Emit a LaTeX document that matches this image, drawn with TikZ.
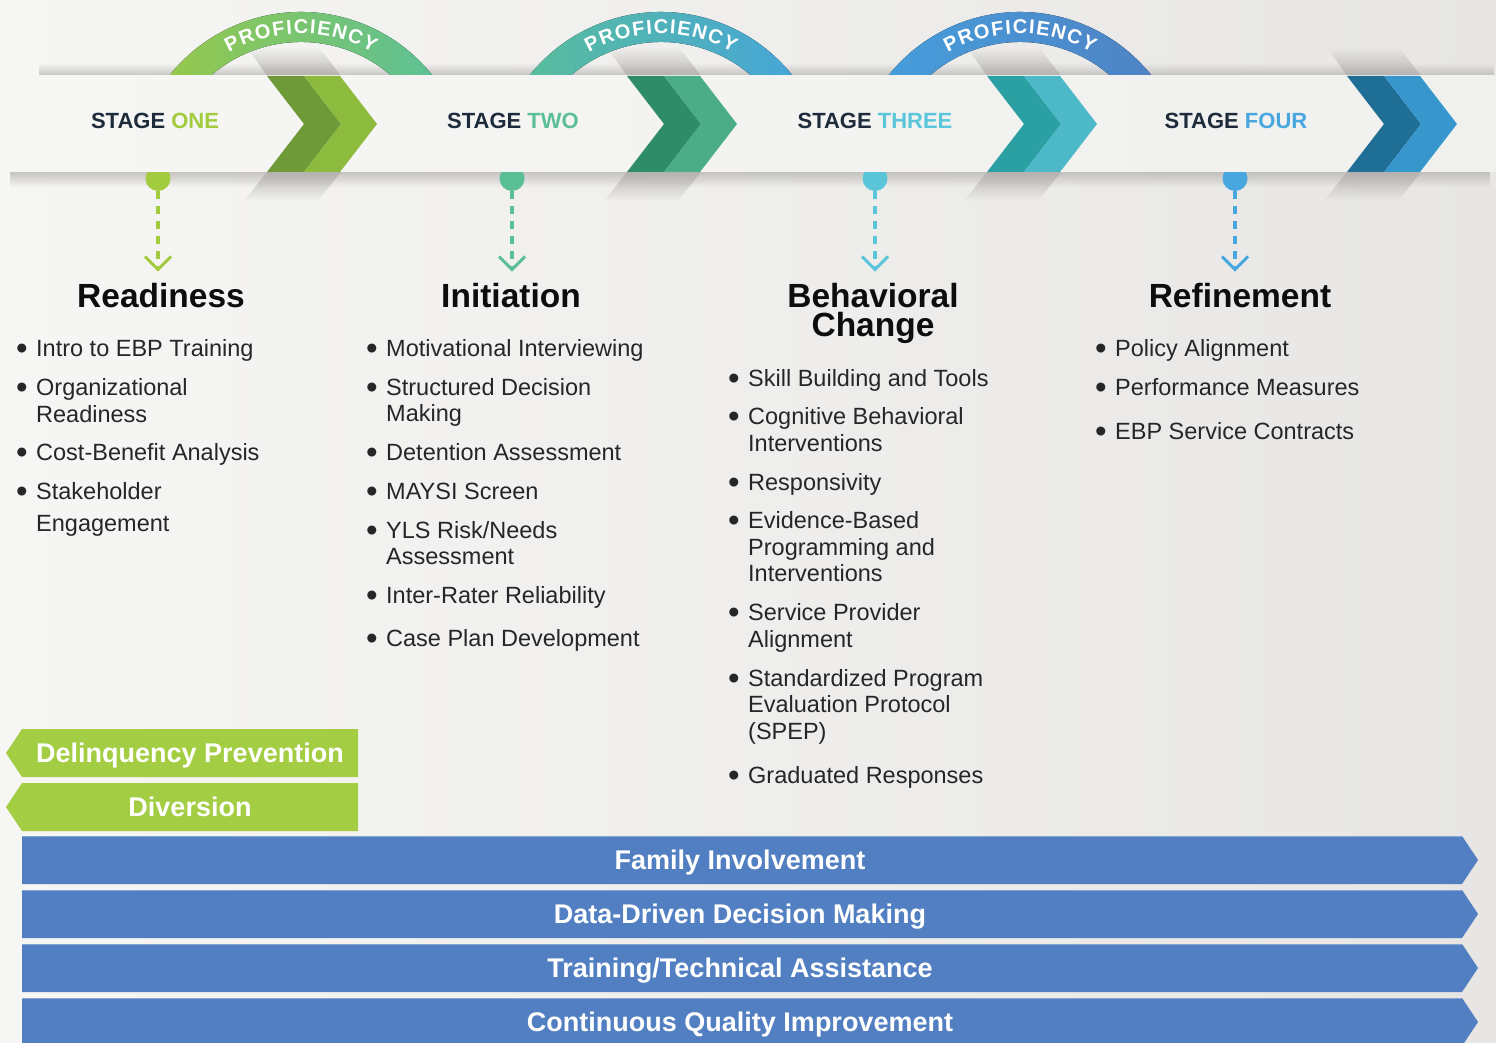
\documentclass[tikz,border=0pt]{standalone}
\usepackage{fontspec}
\setmainfont{Liberation Sans}
\usetikzlibrary{calc,fadings}

% palette
\definecolor{bgL}{HTML}{F6F6F5}
\definecolor{bgR}{HTML}{E7E6E5}
\definecolor{bandL}{HTML}{F6F6F5}
\definecolor{bandR}{HTML}{F0F0EF}
\definecolor{shadowc}{HTML}{B3AFAC}
\definecolor{stA}{HTML}{A2CB3F}
\definecolor{stB}{HTML}{5BBF95}
\definecolor{stC}{HTML}{5BC6D9}
\definecolor{stD}{HTML}{47A7DE}
\definecolor{chAd}{HTML}{6E9A38}
\definecolor{chAl}{HTML}{8DBB3E}
\definecolor{chBd}{HTML}{2E8C68}
\definecolor{chBl}{HTML}{4BAD88}
\definecolor{chCd}{HTML}{2AA0A3}
\definecolor{chCl}{HTML}{4DB9C8}
\definecolor{chDd}{HTML}{1F6E95}
\definecolor{chDl}{HTML}{3796CC}
\definecolor{arcA}{HTML}{9BC945}
\definecolor{arcB}{HTML}{57C09D}
\definecolor{arcC}{HTML}{5ABF97}
\definecolor{arcD}{HTML}{45A3DD}
\definecolor{arcE}{HTML}{45A0DD}
\definecolor{arcF}{HTML}{5080C3}
\definecolor{bgreen}{HTML}{A3CD42}
\definecolor{bblue}{HTML}{517FC1}
\definecolor{bbluelt}{HTML}{86A6D6}
\definecolor{stgtxt}{HTML}{1E2B3B}
\definecolor{bodytxt}{HTML}{262626}
\definecolor{hdtxt}{HTML}{0D0D0D}

% bullet item (first line) and continuation line
\newcommand\bitem[4]{\node[itm] (#1) at (#2,#3)
  {\makebox[20pt][l]{\raisebox{-3pt}{\fontsize{33}{33}\selectfont\textbullet}}#4};}
\newcommand\bline[4]{\node[itm] (#1) at (#2,#3) {#4};}

\tikzset{
  itm/.style={anchor=west, inner sep=0pt, text=bodytxt,
    font=\fontsize{23.5}{27}\selectfont, text height=16.8pt, text depth=0pt},
  hdg/.style={inner sep=0pt, text=hdtxt,
    font=\bfseries\fontsize{33.5}{36}\selectfont, text height=24pt, text depth=0pt},
  stg/.style={inner sep=0pt, text=stgtxt,
    font=\bfseries\fontsize{22}{24}\selectfont, text height=15.8pt, text depth=0pt},
  bnr/.style={inner sep=0pt, text=white,
    font=\bfseries\fontsize{27}{29}\selectfont, text height=19.3pt, text depth=0pt},
  arcltr/.style={inner sep=0pt, anchor=base, text=white,
    font=\bfseries\fontsize{20}{20}\selectfont},
  dotn/.style={circle, inner sep=0pt, minimum size=25pt},
  dashln/.style={line width=3.5pt, dash pattern=on 7.5pt off 7.5pt},
  vhead/.style={line width=3pt, line join=miter},
}

\begin{document}
\begin{tikzpicture}[x=1pt,y=-1pt]
\useasboundingbox (0,0) rectangle (1496,1043);
\shade[left color=bgL, right color=bgR] (0,0) rectangle (1496,1043);

% soft shadow along the stage band
\fill[shadowc, fill opacity=0.7, path fading=north] (40,63) rectangle (1496,76);
\fill[shadowc, fill opacity=0.7, path fading=south] (12,172) rectangle (1496,187);

% proficiency arcs with their lettering
\foreach \cx/\ca/\cb in {301/arcA/arcB, 661/arcC/arcD, 1020/arcE/arcF}{
  \fill[left color=\ca, right color=\cb]
    ($(\cx,180)+(195:168)$) arc[start angle=195, end angle=345, radius=168]
    -- ($(\cx,180)+(345:138)$) arc[start angle=345, end angle=195, radius=138] -- cycle;
  \foreach \ch/\ph [count=\j] in {P/-26.86, R/-20.88, O/-14.46, F/-8.48, I/-4.46, C/0,
      I/4.46, E/8.70, N/14.68, C/20.88, Y/26.86}{
    \node[arcltr, rotate={0-(\ph)}] (L\cx-\j) at ($(\cx,180)+({270+(\ph)}:146.5)$) {\ch};
  }
}

% stage markers (half hidden below the band)
\foreach \k/\px/\cc in {1/158/stA, 2/512/stB, 3/875/stC, 4/1235/stD}{
  \node[dotn, fill=\cc] (dot\k) at (\px,178.5) {};
}

% shadows of the chevron arms leaving the band
\foreach \dx in {0,360,720,1080}{
  \begin{scope}[xshift=\dx]
    \fill[shadowc, fill opacity=0.85, path fading=north] (247,47) -- (319,47) -- (341,76) -- (267,76) -- cycle;
    \fill[shadowc, fill opacity=0.85, path fading=south] (267,172) -- (341,172) -- (318,201) -- (244,201) -- cycle;
  \end{scope}
}

% the stage band
\fill[left color=bandL, right color=bandR] (12,76) rectangle (1496,172);

% chevrons
\foreach \dx/\dk/\lt in {0/chAd/chAl, 360/chBd/chBl, 720/chCd/chCl, 1080/chDd/chDl}{
  \begin{scope}[xshift=\dx]
    \fill[\dk] (267,76) -- (304,76) -- (341,124) -- (304,172) -- (267,172) -- (304,124) -- cycle;
    \fill[\lt] (304,76) -- (340,76) -- (377,124) -- (340,172) -- (304,172) -- (341,124) -- cycle;
  \end{scope}
}

% stage titles
\node[stg] (s1) at (155,121) {STAGE \textcolor{stA}{ONE}};
\node[stg] (s2) at (513,121) {STAGE \textcolor{stB}{TWO}};
\node[stg] (s3) at (875,121) {STAGE \textcolor{stC}{THREE}};
\node[stg] (s4) at (1236,121) {STAGE \textcolor{stD}{FOUR}};

% dashed drops with open arrow heads
\foreach \k/\px/\cc in {1/158/stA, 2/512/stB, 3/875/stC, 4/1235/stD}{
  \coordinate (tip\k) at (\px,269.5);
  \draw[dashln, \cc] (dot\k.south) -- (tip\k);
  \draw[vhead, \cc] (tip\k) ++(-13,-13) -- (tip\k) -- ++(13,-13);
}

% headings
\node[hdg] (h1) at (161,295) {Readiness};
\node[hdg] (h2) at (511,295) {Initiation};
\node[hdg] (h3a) at (873,295) {Behavioral};
\node[hdg] (h3b) at (873,324) {Change};
\node[hdg] (h4) at (1240,295) {Refinement};

% Readiness
\bitem{r1}{16}{348}{Intro to EBP Training}
\bitem{r2}{16}{387}{Organizational}
\bline{r2b}{36}{414}{Readiness}
\bitem{r3}{16}{452}{Cost-Benefit Analysis}
\bitem{r4}{16}{491}{Stakeholder}
\bline{r4b}{36}{523}{Engagement}

% Initiation
\bitem{i1}{366}{348}{Motivational Interviewing}
\bitem{i2}{366}{387}{Structured Decision}
\bline{i2b}{386}{413}{Making}
\bitem{i3}{366}{452}{Detention Assessment}
\bitem{i4}{366}{491}{MAYSI Screen}
\bitem{i5}{366}{530}{YLS Risk/Needs}
\bline{i5b}{386}{556}{Assessment}
\bitem{i6}{366}{595}{Inter-Rater Reliability}
\bitem{i7}{366}{638}{Case Plan Development}

% Behavioral Change
\bitem{b1}{728}{378}{Skill Building and Tools}
\bitem{b2}{728}{416}{Cognitive Behavioral}
\bline{b2b}{748}{443}{Interventions}
\bitem{b3}{728}{482}{Responsivity}
\bitem{b4}{728}{520}{Evidence-Based}
\bline{b4b}{748}{547}{Programming and}
\bline{b4c}{748}{573}{Interventions}
\bitem{b5}{728}{612}{Service Provider}
\bline{b5b}{748}{639}{Alignment}
\bitem{b6}{728}{678}{Standardized Program}
\bline{b6b}{748}{704}{Evaluation Protocol}
\bline{b6c}{748}{731}{(SPEP)}
\bitem{b7}{728}{775}{Graduated Responses}

% Refinement
\bitem{f1}{1095}{348}{Policy Alignment}
\bitem{f2}{1095}{387}{Performance Measures}
\bitem{f3}{1095}{431}{EBP Service Contracts}

% green banners
\fill[bgreen] (22,729) -- (358,729) -- (358,777) -- (22,777) -- (6,753) -- cycle;
\node[bnr] (dp) at (190,753) {Delinquency Prevention};
\fill[bgreen] (22,783) -- (358,783) -- (358,831) -- (22,831) -- (6,807) -- cycle;
\node[bnr] (dv) at (190,807) {Diversion};

% blue bars
\foreach \y/\t [count=\k] in {860/{Family Involvement}, 914/{Data-Driven Decision Making},
    968/{Training/Technical Assistance}, 1022/{Continuous Quality Improvement}}{
  \fill[bblue] (22,\y-24) -- (1462,\y-24) -- (1478,\y) -- (1462,\y+24) -- (22,\y+24) -- cycle;
  \draw[bbluelt, line width=1pt] (22,\y-23.5) -- (1462,\y-23.5);
  \node[bnr] (bar\k) at (740,\y) {\t};
}
\end{tikzpicture}
\end{document}
